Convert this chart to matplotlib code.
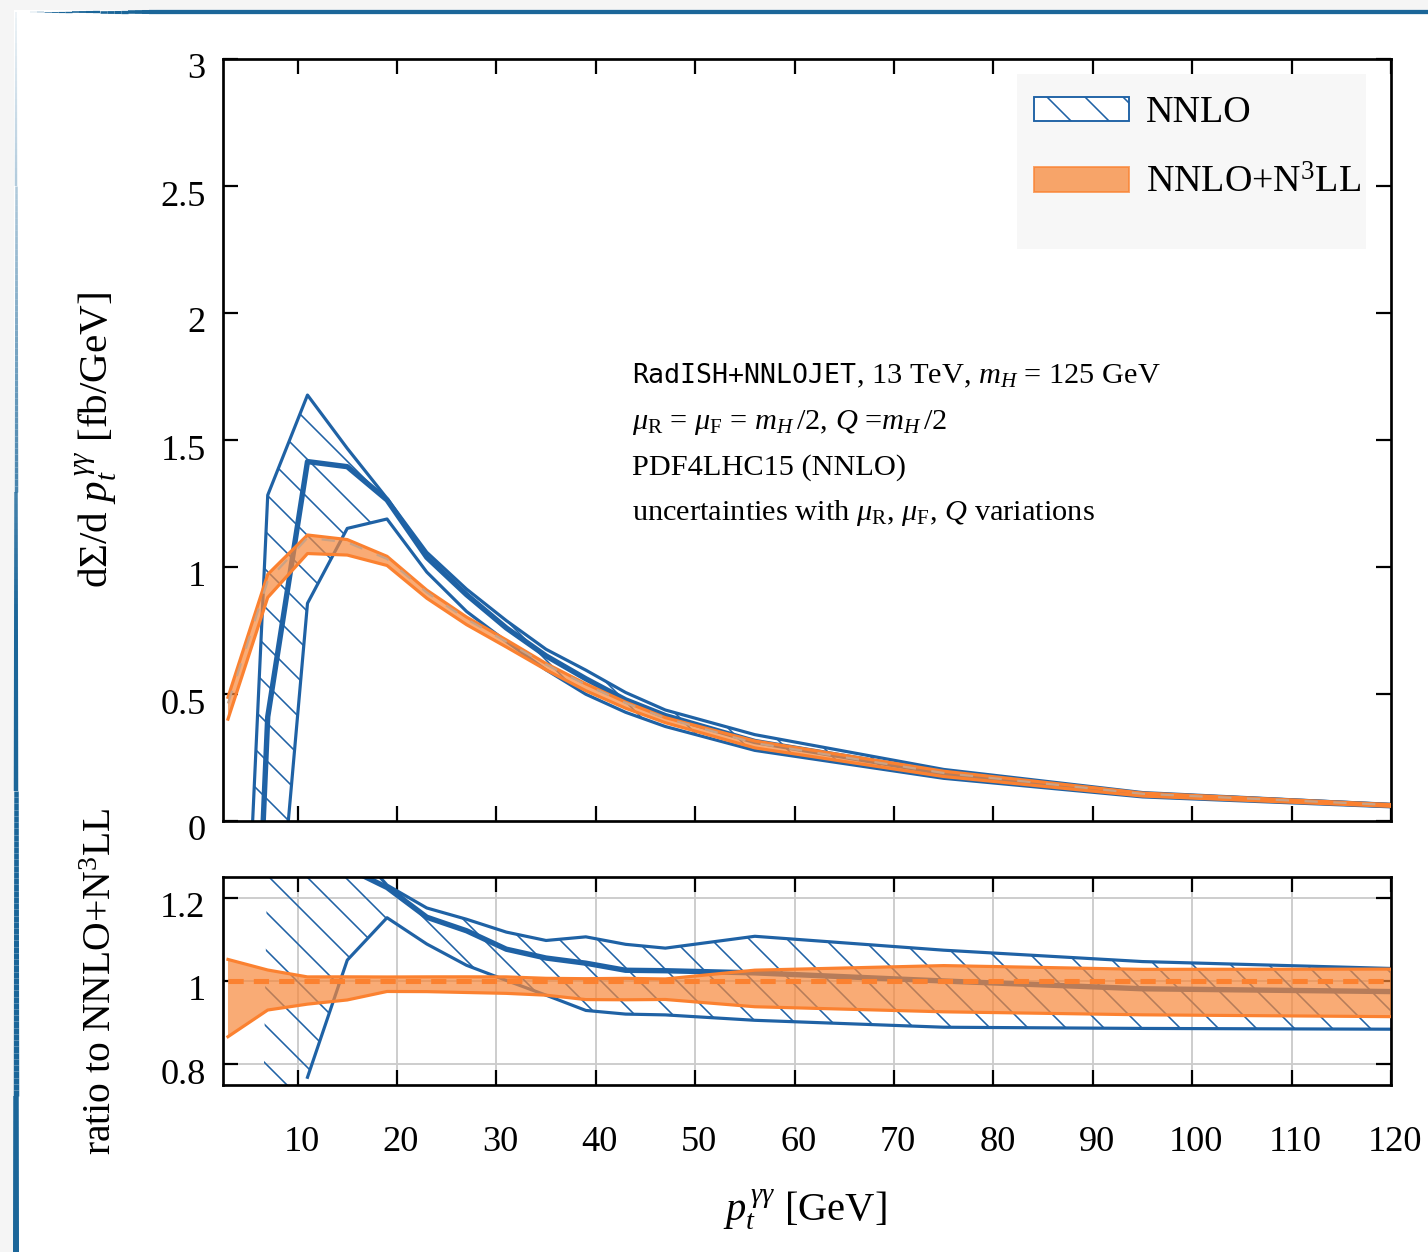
import numpy as np
import matplotlib
matplotlib.use("Agg")
import matplotlib.pyplot as plt
import matplotlib.transforms as mtransforms
from matplotlib.patches import Rectangle, Patch
from matplotlib.collections import LineCollection
from matplotlib.ticker import FuncFormatter

# ---------------- data ----------------
pt = [3, 7, 11, 15, 19, 23, 27, 31, 35, 39, 43, 47, 56, 75, 95, 120]

nnlo_up = [-2.1, 1.283, 1.677, 1.467, 1.270, 1.058, 0.913, 0.789, 0.676, 0.594,
           0.506, 0.437, 0.340, 0.203, 0.112, 0.0649]
nnlo_cen = [-3.2, 0.41, 1.415, 1.395, 1.264, 1.038, 0.891, 0.760, 0.650, 0.560,
            0.477, 0.415, 0.313, 0.189, 0.105, 0.0614]
nnlo_lo = [-6.0, -0.92, 0.857, 1.152, 1.189, 0.980, 0.825, 0.707, 0.595, 0.499,
           0.428, 0.372, 0.278, 0.168, 0.0948, 0.0557]

n3ll_up = [0.487, 0.971, 1.126, 1.108, 1.042, 0.909, 0.803, 0.713, 0.620, 0.540,
           0.468, 0.407, 0.315, 0.196, 0.110, 0.0648]
n3ll_cen = [0.463, 0.946, 1.115, 1.097, 1.032, 0.900, 0.795, 0.706, 0.616, 0.537,
            0.465, 0.405, 0.307, 0.189, 0.107, 0.063]
n3ll_lo = [0.401, 0.880, 1.053, 1.047, 1.006, 0.877, 0.773, 0.685, 0.595, 0.513,
           0.444, 0.387, 0.288, 0.175, 0.0983, 0.0576]

# first pT point from which the NNLO ratio curves are drawn as lines
ratio_line_from = 11

xticks = [10, 20, 30, 40, 50, 60, 70, 80, 90, 100, 110, 120]
yticks_main = [0, 0.5, 1, 1.5, 2, 2.5, 3]
yticks_ratio = [0.8, 1.0, 1.2]

labels = ["NNLO", r"NNLO+N$^3$LL"]
info_code = "RadISH+NNLOJET"
info_lines = [
    r", 13 TeV, $m_H$ = 125 GeV",
    r"$\mu_{\rm R}$ = $\mu_{\rm F}$ = $m_H\,/2$, $Q$ =$m_H\,/2$",
    "PDF4LHC15 (NNLO)",
    r"uncertainties with $\mu_{\rm R}$, $\mu_{\rm F}$, $Q$ variations",
]

# ---------------- style ----------------
W, H = 1428, 1252
DPI = 228
plt.rcParams.update({
    "font.family": ["Liberation Serif", "DejaVu Serif"],
    "mathtext.fontset": "custom",
    "mathtext.rm": "Liberation Serif",
    "mathtext.it": "Liberation Serif:italic",
    "mathtext.bf": "Liberation Serif:bold",
    "hatch.linewidth": 0.5,
    "axes.linewidth": 0.85,
})
BLUE = "#1f62a5"
ORANGE = "#fb8130"
OFILL = "#f7883a"
HATCH = "\\\\"

fig = plt.figure(figsize=(W / DPI, H / DPI), dpi=DPI)
fig.patch.set_facecolor("white")


def fx(px):
    return px / W


def fy(py):
    return 1 - py / H


ax1 = fig.add_axes([fx(223), fy(821), fx(1391) - fx(223), fy(59) - fy(821)])
ax2 = fig.add_axes([fx(223), fy(1085), fx(1391) - fx(223), fy(877) - fy(1085)])

x = np.array(pt, dtype=float)
nu, nc, nl = np.array(nnlo_up), np.array(nnlo_cen), np.array(nnlo_lo)
ou, oc, ol = np.array(n3ll_up), np.array(n3ll_cen), np.array(n3ll_lo)


def draw(ax, f, line_mask):
    ax.fill_between(x, f(nl), f(nu), facecolor="none", edgecolor=BLUE,
                    hatch=HATCH, linewidth=0, zorder=1)
    m = line_mask
    ax.plot(x[m], f(nu)[m], color=BLUE, lw=1.0, zorder=2)
    ax.plot(x[m], f(nl)[m], color=BLUE, lw=1.0, zorder=2)
    ax.plot(x[m], f(nc)[m], color=BLUE, lw=1.7, zorder=2)
    ax.fill_between(x, f(ol), f(ou), facecolor=OFILL, alpha=0.7,
                    linewidth=0, zorder=3)
    ax.plot(x, f(ou), color=ORANGE, lw=1.0, zorder=4)
    ax.plot(x, f(ol), color=ORANGE, lw=1.0, zorder=4)


def shift_ticklabels(axis_labels, dx_px, dy_px):
    off = mtransforms.ScaledTranslation(dx_px / DPI, dy_px / DPI, fig.dpi_scale_trans)
    for lab in axis_labels:
        lab.set_transform(lab.get_transform() + off)


# upper panel
draw(ax1, lambda v: v, np.ones_like(x, dtype=bool))
ax1.plot(x, oc, color="#c9a286", lw=0.7, dashes=(6, 7), zorder=5)
ax1.set_xlim(2.5, 120)
ax1.set_ylim(0, 3)
ax1.set_xticks(xticks)
ax1.set_yticks(yticks_main)
ax1.tick_params(axis="both", which="both", direction="in", length=4.8,
                width=0.7, top=True, right=True, labelsize=11.5, pad=5.5)
ax1.tick_params(axis="x", labelbottom=False)
ax1.yaxis.set_major_formatter(FuncFormatter(lambda v, p: "%g" % v))
ax1.set_ylabel(r"d$\Sigma$/d $p_t^{\,\gamma\gamma}$ [fb/GeV]", fontsize=13)
ax1.yaxis.set_label_coords(-0.0882, 0.5)
shift_ticklabels(ax1.get_yticklabels(), 0, -7)

# info text
y0 = 0.5748
t_code = ax1.text(0.350, y0, info_code, transform=ax1.transAxes,
                  fontsize=8.4, family="DejaVu Sans Mono", ha="left",
                  va="baseline", zorder=6)
fig.canvas.draw()
bb = t_code.get_window_extent()
x_after = ax1.transAxes.inverted().transform((bb.x1, bb.y0))[0]
for i, line in enumerate(info_lines):
    xpos = x_after if i == 0 else 0.350
    ax1.text(xpos, y0 - i * 0.0599, line, transform=ax1.transAxes,
             fontsize=9.6, ha="left", va="baseline", zorder=6)

# legend background + legend
ax1.add_patch(Rectangle((0.680, 0.7507), 0.299, 0.229, transform=ax1.transAxes,
                        facecolor="#f7f7f7", edgecolor="none", zorder=6))
handles = [
    Patch(facecolor="white", edgecolor=BLUE, hatch=HATCH, linewidth=0.6),
    Patch(facecolor=OFILL, alpha=0.75, edgecolor=ORANGE, linewidth=0.6),
]
leg = ax1.legend(handles, labels, loc="upper left", bbox_to_anchor=(0.6943, 0.9515),
                 borderaxespad=0, borderpad=0, frameon=False, fontsize=12,
                 handlelength=2.5, handleheight=0.62, handletextpad=0.45,
                 labelspacing=0.93)
leg.set_zorder(7)

# ratio panel
draw(ax2, lambda v: v / oc, x >= ratio_line_from)
ax2.plot(x, oc / oc, color=ORANGE, lw=1.6, dashes=(3, 2), zorder=5)
ax2.set_xlim(2.5, 120)
ax2.set_ylim(0.75, 1.25)
ax2.set_xticks(xticks)
ax2.set_yticks(yticks_ratio)
ax2.grid(True, color="#cccccc", lw=0.6, zorder=0)
ax2.set_axisbelow(True)
ax2.tick_params(axis="both", which="both", direction="in", length=4.8,
                width=0.7, top=True, right=True, labelsize=11.5)
ax2.tick_params(axis="x", pad=13)
ax2.tick_params(axis="y", pad=5.5)
ax2.yaxis.set_major_formatter(FuncFormatter(lambda v, p: "%g" % v))
ax2.set_ylabel(r"ratio to NNLO+N$^3$LL", fontsize=12.5)
ax2.yaxis.set_label_coords(-0.0882, 0.5)
ax2.set_xlabel(r"$p_t^{\,\gamma\gamma}$ [GeV]", fontsize=12.8)
ax2.xaxis.set_label_coords(0.498, -0.49)
shift_ticklabels(ax2.get_yticklabels(), 0, -7)
shift_ticklabels(ax2.get_xticklabels(), 4, 0)

# ---------------- page decoration ----------------
fig.patches.append(Rectangle((0, 0), fx(14), 1, transform=fig.transFigure,
                             facecolor="#f5f5f5", edgecolor="none", zorder=0))
fig.patches.append(Rectangle((0, fy(10)), 1, 10 / H, transform=fig.transFigure,
                             facecolor="#f5f5f5", edgecolor="none", zorder=0))
xs = np.linspace(30, W, 200)
segs = [[(fx(xs[i]), fy(11.5)), (fx(xs[i + 1]), fy(11.5))] for i in range(len(xs) - 1)]
widths = [min(1.3, 1.3 * (xs[i] - 30) / 120) + 0.05 for i in range(len(xs) - 1)]
fig.add_artist(LineCollection(segs, linewidths=widths, colors="#1b6699",
                              transform=fig.transFigure, capstyle="butt"))
ys = np.linspace(12, H, 200)
segs = [[(fx(16), fy(ys[i])), (fx(16), fy(ys[i + 1]))] for i in range(len(ys) - 1)]
cols = [(0.106, 0.40, 0.60, min(1.0, 0.08 + (ys[i] - 12) / 650)) for i in range(len(ys) - 1)]
lw = [0.6 + 1.3 * (ys[i] / H) for i in range(len(ys) - 1)]
fig.add_artist(LineCollection(segs, linewidths=lw, colors=cols,
                              transform=fig.transFigure, capstyle="butt"))

fig.savefig("out.png", dpi=DPI)
